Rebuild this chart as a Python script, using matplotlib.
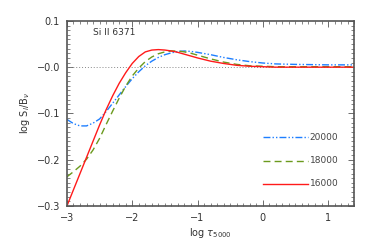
import matplotlib
matplotlib.use("Agg")
import matplotlib.pyplot as plt
from matplotlib.ticker import MultipleLocator, FixedLocator, FixedFormatter

x = [-3.0, -2.9, -2.8, -2.7, -2.6, -2.5, -2.4, -2.3, -2.2, -2.1, -2.0, -1.9, -1.8,
     -1.7, -1.6, -1.5, -1.4, -1.3, -1.2, -1.1, -1.0, -0.8, -0.6, -0.4, -0.2, 0.0,
     0.2, 0.5, 1.0, 1.4]
red_16000 = [-0.300, -0.265, -0.230, -0.195, -0.160, -0.125, -0.092, -0.062, -0.035,
             -0.012, 0.008, 0.023, 0.033, 0.037, 0.038, 0.037, 0.035, 0.032, 0.028,
             0.024, 0.020, 0.013, 0.008, 0.004, 0.002, 0.001, 0.0, 0.0, 0.0, 0.0]
green_18000 = [-0.237, -0.226, -0.214, -0.199, -0.179, -0.154, -0.124, -0.095, -0.067,
               -0.041, -0.019, -0.002, 0.012, 0.022, 0.029, 0.033, 0.035, 0.035, 0.033,
               0.030, 0.026, 0.018, 0.011, 0.006, 0.003, 0.002, 0.001, 0.001, 0.001, 0.001]
blue_20000 = [-0.113, -0.122, -0.127, -0.127, -0.121, -0.112, -0.096, -0.078, -0.060,
              -0.042, -0.025, -0.010, 0.003, 0.013, 0.021, 0.027, 0.031, 0.034, 0.035,
              0.034, 0.032, 0.027, 0.021, 0.016, 0.012, 0.009, 0.007, 0.006, 0.005, 0.005]

series_labels = ["20000", "18000", "16000"]
x_ticks = [-3, -2, -1, 0, 1]
x_ticklabels = ["\u22123", "\u22122", "\u22121", "0", "1"]
y_ticks = [-0.3, -0.2, -0.1, 0.0, 0.1]
y_ticklabels = ["\u22120.3", "\u22120.2", "\u22120.1", "\u22120.0", "0.1"]

plt.rcParams['font.family'] = ['DejaVu Sans']
fig = plt.figure(figsize=(3.74, 2.49), dpi=100)
ax = fig.add_axes([0.179, 0.173, 0.768, 0.743])

ax.axhline(0.0, color='#888888', lw=0.7, ls=(0, (1, 2)))
ax.plot(x, blue_20000, color='#1E7FFF', lw=1.0, ls=(0, (5, 1.5, 1, 1.5, 1, 1.5)))
ax.plot(x, green_18000, color='#6B9A1E', lw=1.0, ls=(0, (5, 3)))
ax.plot(x, red_16000, color='#FF1A1A', lw=1.0, ls='-')

# in-plot legend
leg_y = [-0.152, -0.202, -0.252]
styles = [('#1E7FFF', (0, (5, 1.5, 1, 1.5, 1, 1.5))), ('#6B9A1E', (0, (5, 3))), ('#FF1A1A', '-')]
for lab, yy, (c, s) in zip(series_labels, leg_y, styles):
    ax.plot([0.0, 0.7], [yy, yy], color=c, ls=s, lw=1.0)
    ax.text(0.72, yy, lab, fontsize=6.5, color='#444444', va='center', ha='left')

ax.text(-2.6, 0.076, "Si II 6371", fontsize=6.5, color='#333333', va='center', ha='left')

ax.set_xlim(-3, 1.4)
ax.set_ylim(-0.3, 0.1)
ax.xaxis.set_major_locator(FixedLocator(x_ticks))
ax.xaxis.set_major_formatter(FixedFormatter(x_ticklabels))
ax.yaxis.set_major_locator(FixedLocator(y_ticks))
ax.yaxis.set_major_formatter(FixedFormatter(y_ticklabels))
ax.xaxis.set_minor_locator(MultipleLocator(0.1))
ax.yaxis.set_minor_locator(MultipleLocator(0.01))
ax.tick_params(which='both', direction='in', top=True, right=True, colors='#555555',
               labelcolor='#333333', labelsize=7)
ax.tick_params(which='major', length=4, width=0.6, pad=5)
ax.tick_params(which='minor', length=2, width=0.5)
for sp in ax.spines.values():
    sp.set_color('#555555')
    sp.set_linewidth(1.2)

ax.set_xlabel(r"log $\tau_{5000}$", fontsize=7, color='#333333', labelpad=2)
ax.set_ylabel(r"log S$_l$/B$_\nu$", fontsize=7, color='#333333', labelpad=3)

fig.savefig("out.png", dpi=100)
